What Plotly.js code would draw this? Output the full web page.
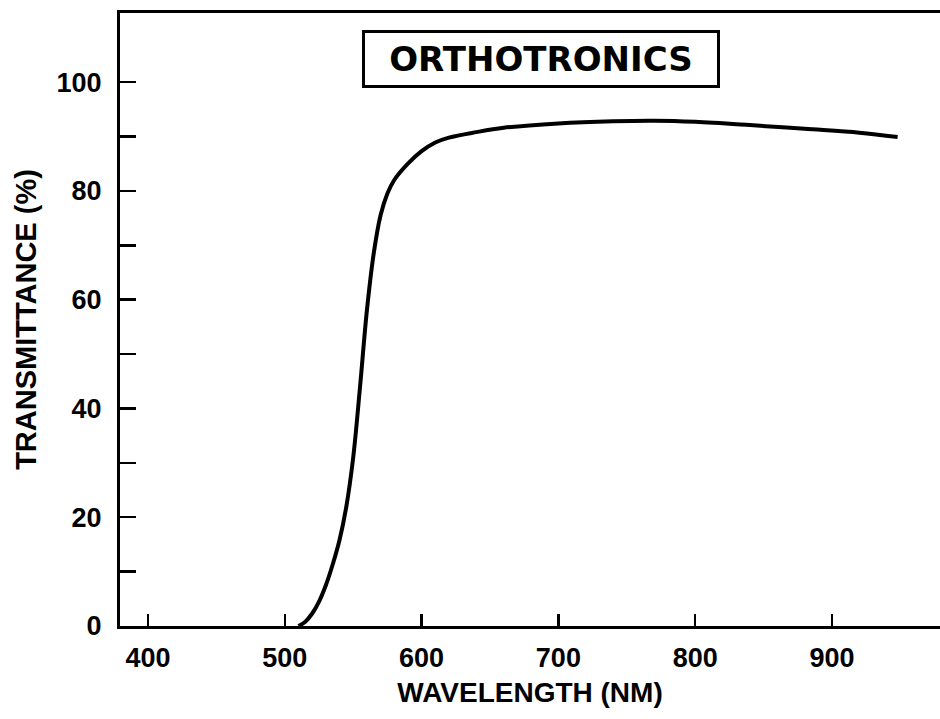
<!DOCTYPE html>
<html>
<head>
<meta charset="utf-8">
<script src="https://cdn.plot.ly/plotly-3.0.1.min.js"></script>
<style>html,body{margin:0;padding:0;background:#fff;}#chart{width:940px;height:719px;}</style>
</head>
<body>
<div id="chart"></div>
<script>
// Data
const wavelength = [510, 515, 520, 525, 530, 535, 540, 545, 550, 555, 560, 565, 570, 575, 580, 590, 600, 610, 620, 640, 660, 700, 740, 770, 800, 840, 880, 920, 948];
const transmittance = [0, 0.8, 2.3, 4.5, 7.5, 11.3, 15.8, 22, 31, 44, 58, 68.5, 75.5, 79.5, 82, 85, 87.3, 88.9, 89.8, 90.8, 91.6, 92.4, 92.8, 92.9, 92.7, 92.1, 91.4, 90.7, 89.9];
const xTickVals = [400, 500, 600, 700, 800, 900];
const xTickText = ['400', '500', '600', '700', '800', '900'];
const yTickVals = [0, 10, 20, 30, 40, 50, 60, 70, 80, 90, 100];
const yTickText = ['0', '', '20', '', '40', '', '60', '', '80', '', '100'];
const boxTitle = 'ORTHOTRONICS';
const xTitle = 'WAVELENGTH (NM)';
const yTitle = 'TRANSMITTANCE (%)';

const FONT = 'Liberation Sans, Arial, sans-serif';

const trace = {
  x: wavelength,
  y: transmittance,
  type: 'scatter',
  mode: 'lines',
  line: {color: '#000', width: 4, shape: 'spline', smoothing: 1},
  hoverinfo: 'skip'
};

const layout = {
  width: 940,
  height: 719,
  margin: {l: 120, r: 0, t: 13, b: 93},
  paper_bgcolor: '#fff',
  plot_bgcolor: '#fff',
  showlegend: false,
  font: {family: FONT, color: '#000', size: 27, weight: 'bold'},
  xaxis: {
    range: [379.5, 979],
    tickmode: 'array',
    tickvals: xTickVals,
    ticktext: xTickText,
    ticks: 'inside',
    ticklen: 12,
    tickwidth: 2.5,
    tickcolor: '#000',
    showline: true,
    linewidth: 3,
    linecolor: '#000',
    mirror: true,
    showgrid: false,
    zeroline: false,
    tickfont: {family: FONT, size: 27, color: '#000', weight: 'bold'},
    ticklabelstandoff: 6,
    title: {text: xTitle, font: {family: FONT, size: 28, color: '#000', weight: 'bold'}, standoff: 10}
  },
  yaxis: {
    range: [0, 112.7],
    tickmode: 'array',
    tickvals: yTickVals,
    ticktext: yTickText,
    ticks: 'inside',
    ticklen: 16,
    tickwidth: 2.5,
    tickcolor: '#000',
    showline: true,
    linewidth: 3,
    linecolor: '#000',
    mirror: false,
    showgrid: false,
    zeroline: false,
    tickfont: {family: FONT, size: 27, color: '#000', weight: 'bold'},
    ticklabelstandoff: 10,
    title: {text: yTitle, font: {family: FONT, size: 29, color: '#000', weight: 'bold'}, standoff: 12}
  },
  annotations: [{
    xref: 'paper', yref: 'paper',
    x: 0.513, y: 0.925,
    xanchor: 'center', yanchor: 'middle',
    text: boxTitle,
    showarrow: false,
    font: {family: 'DejaVu Sans, Liberation Sans, sans-serif', size: 34, color: '#000', weight: 'bold'},
    bordercolor: '#000',
    borderwidth: 3,
    borderpad: 0,
    width: 352,
    height: 52,
    bgcolor: '#fff'
  }]
};

Plotly.newPlot('chart', [trace], layout, {displayModeBar: false, staticPlot: true});
</script>
</body>
</html>
